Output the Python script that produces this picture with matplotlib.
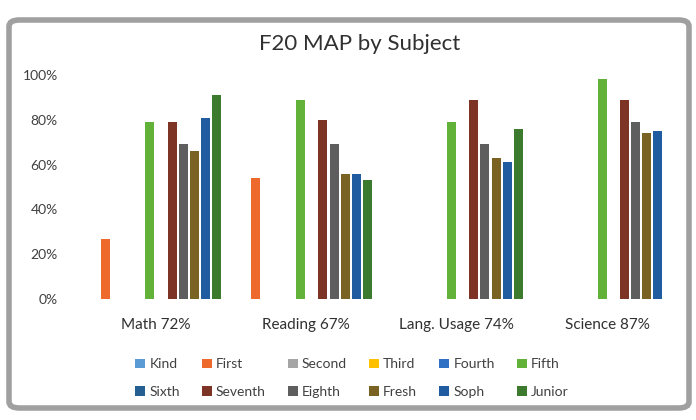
import matplotlib
matplotlib.use("Agg")
import matplotlib.pyplot as plt
from matplotlib.patches import FancyBboxPatch, Patch
import numpy as np

plt.rcParams['font.family'] = ['Lato', 'DejaVu Sans']

categories = ["Math 72%", "Reading 67%", "Lang. Usage 74%", "Science 87%"]
series_names = ["Kind", "First", "Second", "Third", "Fourth", "Fifth",
                "Sixth", "Seventh", "Eighth", "Fresh", "Soph", "Junior"]
colors = ["#5B9BD5", "#ED6A2C", "#A5A5A5", "#FFC000", "#2F6FC4", "#62B23A",
          "#255E91", "#7E3424", "#5E5E5E", "#7A6222", "#225CA0", "#3C7A2E"]

kind    = [0, 0, 0, 0]
first   = [0.27, 0.54, 0, 0]
second  = [0, 0, 0, 0]
third   = [0, 0, 0, 0]
fourth  = [0, 0, 0, 0]
fifth   = [0.79, 0.89, 0.79, 0.98]
sixth   = [0, 0, 0, 0]
seventh = [0.79, 0.80, 0.89, 0.89]
eighth  = [0.69, 0.69, 0.69, 0.79]
fresh   = [0.66, 0.56, 0.63, 0.74]
soph    = [0.81, 0.56, 0.61, 0.75]
junior  = [0.91, 0.53, 0.76, 0]

series = [kind, first, second, third, fourth, fifth,
          sixth, seventh, eighth, fresh, soph, junior]

yticks = [0, 0.2, 0.4, 0.6, 0.8, 1.0]
ytick_labels = ["0%", "20%", "40%", "60%", "80%", "100%"]

W, H = 696, 420
fig = plt.figure(figsize=(W / 100, H / 100), dpi=100)
fig.patch.set_facecolor("white")

# scanned rounded border
border = FancyBboxPatch((9 / W, 12 / H), (689 - 9) / W, (400 - 12) / H,
                        boxstyle="round,pad=0,rounding_size=0.015",
                        transform=fig.transFigure, facecolor="none",
                        edgecolor="#a0a0a0", linewidth=4, zorder=-1)
fig.patches.append(border)

ax = fig.add_axes([80 / W, 1 - 299 / H, (683 - 80) / W, (299 - 75) / H])
ax.set_facecolor("none")

x = np.arange(len(categories))
slot = 11.2 / 151
bw = 9 / 151
for i, (name, vals, c) in enumerate(zip(series_names, series, colors)):
    ax.bar(x + (i - 5.5) * slot, vals, width=bw, color=c, label=name,
           edgecolor="none", zorder=2)

ax.set_xlim(-0.5, 3.5)
ax.set_ylim(0, 1.0)
ax.set_yticks(yticks)
ax.set_yticklabels(ytick_labels, fontsize=10, color="#404040")
ax.set_xticks(x)
ax.set_xticklabels(categories, fontsize=11, color="#303030")
ax.tick_params(axis="both", length=0)
ax.tick_params(axis="y", pad=16)
ax.tick_params(axis="x", pad=14)
for s in ax.spines.values():
    s.set_visible(False)

fig.text(360 / W, 1 - 44 / H, "F20 MAP by Subject", ha="center", va="center",
         fontsize=16, color="#303030")

handles = [Patch(facecolor=c, edgecolor="none") for c in colors]
order = []
for col in range(6):
    order += [col, col + 6]
leg = fig.legend([handles[k] for k in order], [series_names[k] for k in order],
                 ncol=6, loc="center", bbox_to_anchor=(352 / W, 1 - 378 / H),
                 frameon=False, fontsize=10, handlelength=0.7, handleheight=0.7,
                 handletextpad=0.3, columnspacing=1.6, labelspacing=1.1)
for t in leg.get_texts():
    t.set_color("#404040")

fig.savefig("out.png", dpi=100, facecolor="white")
